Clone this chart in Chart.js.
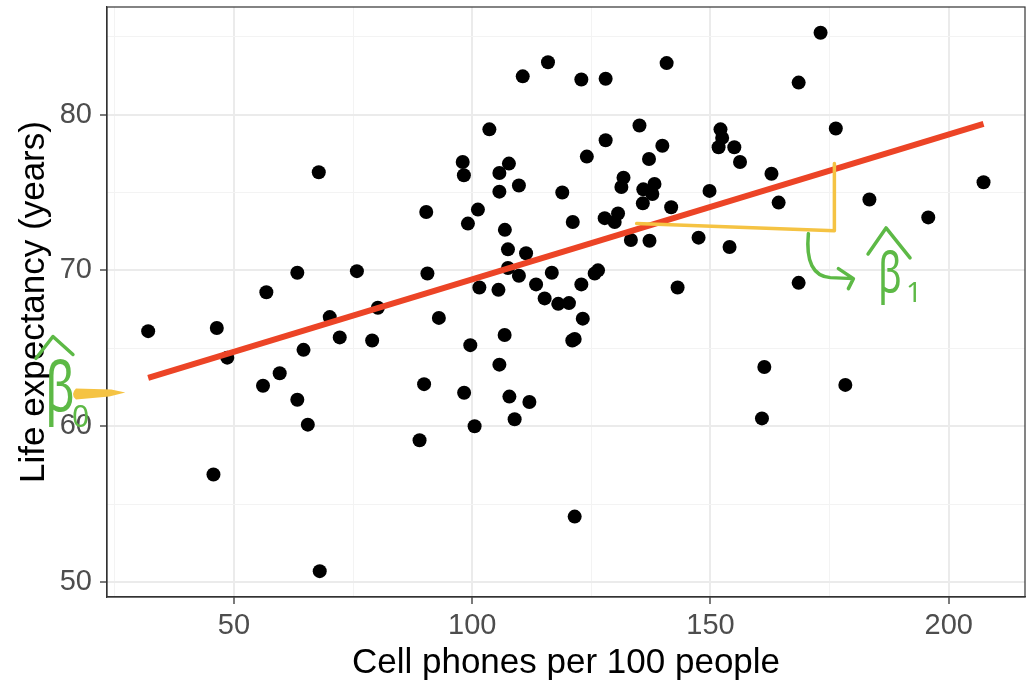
<!DOCTYPE html>
<html>
<head>
<meta charset="utf-8">
<script src="https://cdn.jsdelivr.net/npm/chart.js@4.4.1/dist/chart.umd.min.js"></script>
<style>
  html, body { margin: 0; padding: 0; background: #fff; }
</style>
</head>
<body>
<canvas id="myChart" width="1032" height="682"></canvas>
<script>
// data
const cellPhones = [67.8, 63.3, 56.8, 32.0, 46.4, 70.1, 72.2, 64.6, 48.6, 59.6, 56.1, 63.3, 65.5, 45.7, 68.0,
  110.6, 115.9, 122.9, 128.0, 140.8, 103.6, 135.1, 128.0, 139.9, 124.05, 137.1, 98.0, 107.7, 105.7, 98.25,
  131.75, 131.3, 109.8, 138.25, 135.9, 137.8, 105.7, 118.9, 135.8, 141.75, 90.35, 101.2, 99.1, 121.1, 127.8,
  130.6, 129.9, 106.85, 133.3, 137.2, 107.5, 111.3, 75.8, 90.6, 107.5, 109.8, 116.7, 113.4, 101.5, 105.5,
  125.7, 126.4, 122.9, 115.2, 118.05, 120.3, 80.2, 93.0, 123.2, 79.0, 106.8, 99.6, 121.0, 121.5, 105.7,
  89.9, 98.3, 107.8, 112.0, 108.9, 100.5, 88.95, 121.5, 173.1, 168.5, 176.3, 152.1, 152.45, 151.7, 155.0,
  156.2, 162.8, 149.8, 164.3, 183.35, 207.3, 195.7, 147.5, 154.0, 168.5, 143.1, 161.3, 178.3, 160.8];
const lifeExp = [76.3, 69.85, 68.6, 66.1, 66.3, 67.0, 65.7, 64.9, 64.4, 63.4, 62.6, 61.7, 60.1, 56.9, 50.7,
  82.45, 83.35, 82.25, 82.3, 83.3, 79.05, 79.3, 78.35, 78.0, 77.3, 77.15, 76.95, 76.85, 76.25, 76.1,
  75.95, 75.35, 75.45, 75.55, 75.2, 74.9, 75.05, 75.0, 74.3, 74.05, 73.75, 73.9, 73.0, 73.1, 73.35,
  73.65, 73.1, 72.6, 71.95, 71.9, 71.35, 71.1, 69.95, 69.8, 70.15, 69.65, 69.85, 69.1, 68.9, 68.75,
  69.8, 70.0, 69.1, 68.2, 67.85, 67.9, 67.6, 66.95, 66.9, 65.5, 65.85, 65.2, 65.5, 65.6, 63.95,
  62.7, 62.15, 61.9, 61.55, 60.45, 60.0, 59.1, 54.2, 85.25, 82.05, 79.1, 79.05, 78.5, 77.9, 77.9,
  76.95, 76.2, 75.1, 74.35, 74.55, 75.65, 73.4, 72.1, 71.5, 69.2, 68.9, 63.8, 62.65, 60.5];

// fitted line ends
const fitX = [32.0, 207.3];
const fitY = [63.1, 79.4];

// hand drawn slope triangle
const slopeX = [134.5, 176.0, 176.0];
const slopeY = [73.0, 72.55, 76.85];

// yellow pointer next to beta0 (x from, x to, y)
const b0ArrowX = [16.0, 27.2];
const b0ArrowY = 62.1;
// beta1 label spot
const b1LabelX = 186.0;
const b1LabelY = 69.0;

const xMajor = [50, 100, 150, 200];
const xMinor = [25, 75, 125, 175];
const yMajor = [50, 60, 70, 80];
const yMinor = [55, 65, 75, 85];

Chart.defaults.font.family = "'Liberation Sans', Arial, sans-serif";

const green = '#5DB946';
const yellow = '#F5C343';

function tickSetter(major, minor) {
  return function (scale) {
    scale.ticks = major.concat(minor).sort((a, b) => a - b).map(v => ({ value: v }));
  };
}

const panelAndNotes = {
  id: 'panelAndNotes',
  afterDraw(chart) {
    const { ctx, chartArea: a, scales: { x, y } } = chart;
    ctx.save();
    // panel border
    ctx.strokeStyle = '#333333';
    ctx.lineWidth = 1.2;
    ctx.strokeRect(a.left, a.top, a.right - a.left, a.bottom - a.top);

    // yellow pointer at the intercept
    const x0 = x.getPixelForValue(b0ArrowX[0]);
    const x1 = x.getPixelForValue(b0ArrowX[1]);
    const yc = y.getPixelForValue(b0ArrowY);
    ctx.fillStyle = yellow;
    ctx.beginPath();
    ctx.moveTo(x0 + 4, yc - 5);
    ctx.lineTo(x1 - 14, yc - 4);
    ctx.lineTo(x1, yc - 1);
    ctx.lineTo(x1 - 16, yc + 3);
    ctx.lineTo(x0 + 4, yc + 6);
    ctx.quadraticCurveTo(x0 - 2, yc + 1, x0 + 4, yc - 5);
    ctx.fill();

    // beta0 hat
    ctx.strokeStyle = green;
    ctx.fillStyle = green;
    ctx.lineWidth = 3.5;
    ctx.lineCap = 'round';
    ctx.lineJoin = 'round';
    const bx = x0 - 27, by = yc + 18;
    ctx.beginPath();
    ctx.moveTo(bx - 9, by - 53);
    ctx.lineTo(bx + 8, by - 75);
    ctx.lineTo(bx + 28, by - 57);
    ctx.stroke();
    ctx.save();
    ctx.translate(bx, by);
    ctx.scale(0.72, 1);
    ctx.font = "68px 'Noto Sans'";
    ctx.textBaseline = 'alphabetic';
    ctx.fillText('β', 0, 0);
    ctx.restore();
    ctx.font = "30px 'Noto Sans'";
    ctx.fillText('0', bx + 27, by + 16);

    // curved arrow from the triangle to beta1
    const cx = x.getPixelForValue(slopeX[1]);
    const cy = y.getPixelForValue(slopeY[1]);
    ctx.beginPath();
    ctx.moveTo(cx - 26, cy + 3);
    ctx.quadraticCurveTo(cx - 30, cy + 45, cx - 4, cy + 47);
    ctx.lineTo(cx + 19, cy + 48);
    ctx.moveTo(cx + 4, cy + 38);
    ctx.lineTo(cx + 19, cy + 48);
    ctx.lineTo(cx + 14, cy + 58);
    ctx.stroke();

    // beta1
    const lx = x.getPixelForValue(b1LabelX);
    const ly = y.getPixelForValue(b1LabelY);
    ctx.beginPath();
    ctx.moveTo(lx - 14, ly - 32);
    ctx.lineTo(lx + 4, ly - 58);
    ctx.lineTo(lx + 28, ly - 28);
    ctx.stroke();
    ctx.save();
    ctx.translate(lx - 4, ly + 6);
    ctx.scale(0.72, 1);
    ctx.font = "54px 'Noto Sans'";
    ctx.fillText('β', 0, 0);
    ctx.restore();
    ctx.font = "28px 'Noto Sans'";
    ctx.fillText('1', lx + 24, ly + 16);
    ctx.restore();
  }
};

new Chart('myChart', {
  data: {
    datasets: [
      {
        type: 'line',
        data: slopeX.map((v, i) => ({ x: v, y: slopeY[i] })),
        borderColor: yellow,
        borderWidth: 3.5,
        pointRadius: 0,
        fill: false,
        tension: 0,
        borderJoinStyle: 'round',
        borderCapStyle: 'round'
      },
      {
        type: 'line',
        data: fitX.map((v, i) => ({ x: v, y: fitY[i] })),
        borderColor: '#EC4426',
        borderWidth: 6,
        pointRadius: 0,
        fill: false,
        tension: 0
      },
      {
        type: 'scatter',
        data: cellPhones.map((v, i) => ({ x: v, y: lifeExp[i] })),
        backgroundColor: '#000000',
        borderWidth: 0,
        pointRadius: 7,
        pointHoverRadius: 7
      }
    ]
  },
  options: {
    responsive: false,
    animation: false,
    devicePixelRatio: 1,
    layout: { padding: { top: 6, right: 6, left: 0, bottom: 0 } },
    plugins: { legend: { display: false }, tooltip: { enabled: false } },
    scales: {
      x: {
        type: 'linear',
        position: 'bottom',
        min: 23.36,
        max: 216.0,
        afterBuildTicks: tickSetter(xMajor, xMinor),
        afterFit: s => { s.height = 85; s.paddingLeft = 0; s.paddingRight = 0; },
        ticks: {
          autoSkip: false,
          maxRotation: 0,
          padding: 5,
          color: '#4D4D4D',
          font: { size: 29 },
          callback: v => xMajor.includes(v) ? String(v) : ''
        },
        grid: {
          color: c => xMajor.includes(c.tick.value) ? '#EBEBEB' : '#F3F3F3',
          lineWidth: c => xMajor.includes(c.tick.value) ? 2 : 1,
          tickColor: c => xMajor.includes(c.tick.value) ? '#333333' : 'rgba(0,0,0,0)',
          tickLength: 7,
          tickWidth: 1.3
        },
        border: { display: true, color: '#333333', width: 1.2 },
        title: {
          display: true,
          text: 'Cell phones per 100 people',
          color: '#000000',
          font: { size: 35 },
          padding: { top: 0, bottom: -2 }
        }
      },
      y: {
        type: 'linear',
        min: 49.04,
        max: 86.9,
        afterBuildTicks: tickSetter(yMajor, yMinor),
        afterFit: s => { s.width = 107; s.paddingTop = 0; s.paddingBottom = 0; },
        ticks: {
          autoSkip: false,
          padding: 8,
          color: '#4D4D4D',
          font: { size: 29 },
          callback: v => yMajor.includes(v) ? String(v) : ''
        },
        grid: {
          color: c => yMajor.includes(c.tick.value) ? '#EBEBEB' : '#F3F3F3',
          lineWidth: c => yMajor.includes(c.tick.value) ? 2 : 1,
          tickColor: c => yMajor.includes(c.tick.value) ? '#333333' : 'rgba(0,0,0,0)',
          tickLength: 7,
          tickWidth: 1.3
        },
        border: { display: true, color: '#333333', width: 1.2 },
        title: {
          display: true,
          text: 'Life expectancy (years)',
          color: '#000000',
          font: { size: 35 },
          padding: { top: 13, bottom: 0 }
        }
      }
    }
  },
  plugins: [panelAndNotes]
});
</script>
</body>
</html>
